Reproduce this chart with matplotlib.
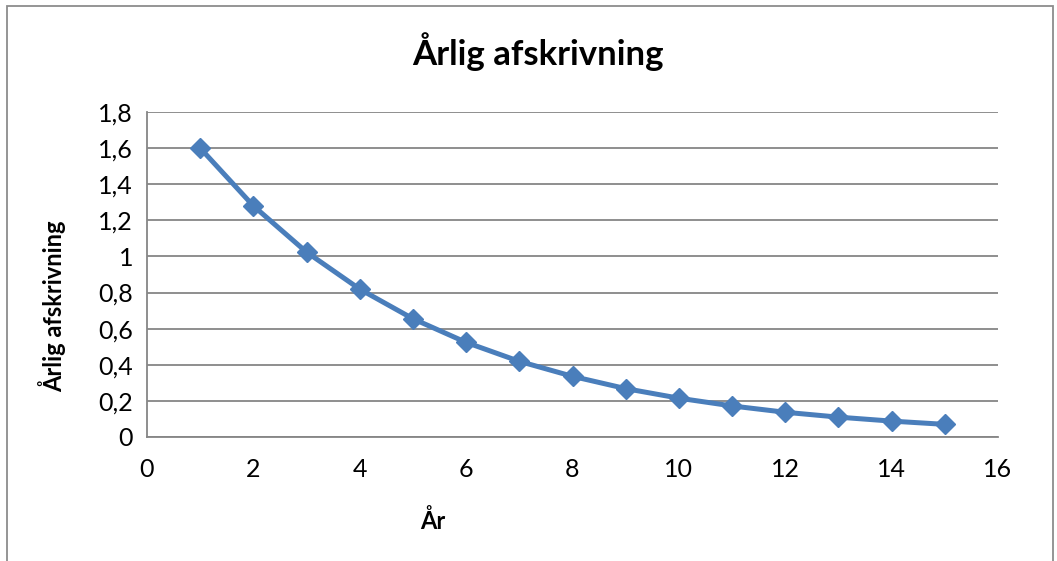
import matplotlib.pyplot as plt
from matplotlib.patches import Rectangle
from matplotlib.ticker import FuncFormatter, MultipleLocator

# Data
years = [1, 2, 3, 4, 5, 6, 7, 8, 9, 10, 11, 12, 13, 14, 15]
depreciation = [1.6, 1.28, 1.024, 0.819, 0.655, 0.524, 0.419, 0.336,
                0.268, 0.215, 0.172, 0.137, 0.110, 0.088, 0.070]

plt.rcParams['font.family'] = ['Lato', 'DejaVu Sans']

fig = plt.figure(figsize=(10.57, 5.61), dpi=100)
ax = fig.add_axes([147 / 1057, 1 - 437 / 561, (998 - 147) / 1057, (437 - 112) / 561])

ax.plot(years, depreciation, color='#4A7EBB', linewidth=3.6,
        marker='D', markersize=10, markerfacecolor='#4A7EBB',
        markeredgecolor='#4A7EBB', solid_joinstyle='round')

ax.set_xlim(0, 16)
ax.set_ylim(0, 1.8)
ax.xaxis.set_major_locator(MultipleLocator(2))
ax.yaxis.set_major_locator(MultipleLocator(0.2))
fmt = FuncFormatter(lambda v, p: f'{v:g}'.replace('.', ','))
ax.xaxis.set_major_formatter(fmt)
ax.yaxis.set_major_formatter(fmt)
ax.tick_params(length=0, labelsize=18, pad=10)
ax.tick_params(axis='x', pad=15)

ax.grid(axis='y', color='#868686', linewidth=1.3)
ax.set_axisbelow(True)
for side in ['top', 'right']:
    ax.spines[side].set_visible(False)
for side in ['left', 'bottom']:
    ax.spines[side].set_color('#868686')
    ax.spines[side].set_linewidth(1.3)

fig.text(538 / 1057, 1 - 52 / 561, 'Årlig afskrivning', ha='center', va='center',
         fontsize=25, fontweight='bold')
fig.text(433 / 1057, 1 - 521 / 561, 'År', ha='center', va='center',
         fontsize=17, fontweight='bold')
fig.text(52 / 1057, 1 - 306 / 561, 'Årlig afskrivning', ha='center', va='center',
         fontsize=17, fontweight='bold', rotation=90)

# chart border
fig.patches.append(Rectangle((7 / 1057, -0.05), (1053 - 7) / 1057, 1.05 - 6 / 561,
                             transform=fig.transFigure, fill=False,
                             edgecolor='#8C8C8C', linewidth=1.3))

fig.savefig('out.png', dpi=100)
